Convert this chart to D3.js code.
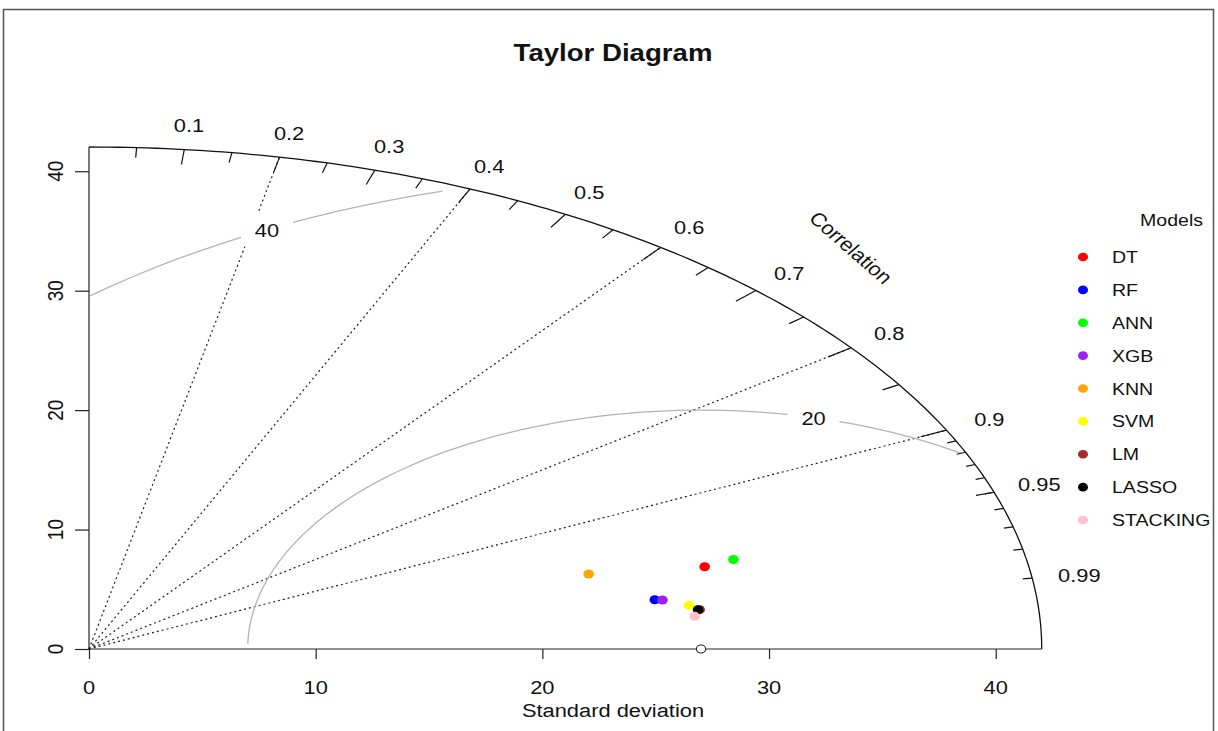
<!DOCTYPE html>
<html>
<head>
<meta charset="utf-8">
<script src="https://cdn.jsdelivr.net/npm/d3@7"></script>
<style>
  body { margin: 0; background: #fff; }
  svg { display: block; }
  text { font-family: "Liberation Sans", Arial, sans-serif; fill: #111; }
</style>
</head>
<body>
<svg id="chart" width="1218" height="731"></svg>
<script>
// ---- data ----------------------------------------------------------------
const models      = ["DT", "RF", "ANN", "XGB", "KNN", "SVM", "LM", "LASSO", "STACKING"];
const modelColors = ["#ff0000", "#0000ff", "#00ff00", "#a020f0", "#ffa500", "#ffff00", "#a52a2a", "#000000", "#ffc0cb"];
const modelSd     = [28.02, 25.30, 29.40, 25.63, 22.92, 26.72, 27.14, 27.07, 26.86];
const modelCor    = [0.9693, 0.9866, 0.9670, 0.9871, 0.9617, 0.9906, 0.9926, 0.9926, 0.9948];
const refSd       = 27.0;                       // standard deviation of the observations
const sdTicks     = [0, 10, 20, 30, 40];
const corBig      = [0.1, 0.2, 0.3, 0.4, 0.5, 0.6, 0.7, 0.8, 0.9];
const corLabels   = [0.1, 0.2, 0.3, 0.4, 0.5, 0.6, 0.7, 0.8, 0.9, 0.95, 0.99];
const corMed      = [0.05, 0.15, 0.25, 0.35, 0.45, 0.55, 0.65, 0.75, 0.85, 0.95];
const corSmall    = [0.91, 0.92, 0.93, 0.94, 0.95, 0.96, 0.97, 0.98, 0.99];
const corLines    = [0.2, 0.4, 0.6, 0.8, 0.9];
const rmsLevels   = [20, 40];

// ---- layout --------------------------------------------------------------
const maxSd = 1.5 * modelSd[0];                 // outer radius of the diagram
const K = 1.15;                                 // horizontal text stretch
const FS = 19;                                  // axis text size
const svg = d3.select("#chart");

const x = d3.scaleLinear().domain([0, 1.1 * maxSd]).range([89, 1137]);
const y = d3.scaleLinear().domain([0, 1.1 * maxSd]).range([649, 649 - 1.1 * 502]);
const P = (sd, a) => [x(sd * Math.cos(a)), y(sd * Math.sin(a))];

function txt(g, px, py, s, size, opts = {}) {
  const rot = opts.rotate ? ` rotate(${opts.rotate})` : "";
  return g.append("text")
    .attr("transform", `translate(${px},${py}) scale(${K},1)${rot}`)
    .attr("text-anchor", opts.anchor || "middle")
    .attr("dominant-baseline", "central")
    .attr("font-size", size)
    .attr("font-weight", opts.bold ? "bold" : null)
    .text(s);
}

// frame
const frame = svg.append("g").attr("stroke", "#555").attr("stroke-width", 1.5).attr("fill", "none");
frame.append("path").attr("d", "M3.5,731 V9.5 H1213.5 V731");

const g = svg.append("g");

// radial correlation lines
corLines.forEach(c => {
  const a = Math.acos(c);
  const [x1, y1] = P(maxSd, a);
  g.append("line").attr("x1", x(0)).attr("y1", y(0)).attr("x2", x1).attr("y2", y1)
    .attr("stroke", "#222").attr("stroke-width", 1.2).attr("stroke-dasharray", "2,3");
});

// axis lines to the outer radius
g.append("line").attr("x1", x(0)).attr("y1", y(0)).attr("x2", x(maxSd)).attr("y2", y(0))
  .attr("stroke", "#222").attr("stroke-width", 1.2);
g.append("line").attr("x1", x(0)).attr("y1", y(0)).attr("x2", x(0)).attr("y2", y(maxSd))
  .attr("stroke", "#222").attr("stroke-width", 1.2);

// axes
const xAxis = d3.axisBottom(x).tickValues(sdTicks).tickSize(10).tickFormat("");
const gx = g.append("g").attr("transform", `translate(0,${y(0)})`).call(xAxis);
gx.select(".domain").remove();
gx.selectAll("line").attr("stroke", "#222").attr("stroke-width", 1.2);
const yAxis = d3.axisLeft(y).tickValues(sdTicks).tickSize(14).tickFormat("");
const gy = g.append("g").attr("transform", `translate(${x(0)},0)`).call(yAxis);
gy.select(".domain").remove();
gy.selectAll("line").attr("stroke", "#222").attr("stroke-width", 1.2);

sdTicks.forEach(v => {
  txt(g, x(v), 687, String(v), FS);
  txt(g, 55, y(v), String(v), FS, { rotate: -90 });
});

// centred RMS difference contours
const theta = d3.range(105).map(i => i * 0.03);
const labelIdx = [44, 69];
const line = d3.line().x(d => x(d[0])).y(d => y(d[1]));
rmsLevels.forEach((gm, gi) => {
  const pts = theta.map(t => [Math.cos(t) * gm + refSd, Math.sin(t) * gm]);
  let end = pts.findIndex(p => p[0] < 0);
  end = end >= 0 ? end - 1 : pts.length - 1;
  let start = -1;
  pts.forEach((p, i) => { if (p[0] * p[0] + p[1] * p[1] > maxSd * maxSd) start = i; });
  start = start + 1;
  g.append("path").attr("d", line(pts.slice(start, end + 1)))
    .attr("fill", "none").attr("stroke", "#b4b4b4").attr("stroke-width", 1.3);
  const lp = pts[labelIdx[gi]];
  if (lp[0] > 0) {
    g.append("rect").attr("x", x(lp[0]) - 26).attr("y", y(lp[1]) - 17)
      .attr("width", 52).attr("height", 34).attr("fill", "#fff");
    txt(g, x(lp[0]), y(lp[1]), String(gm), FS);
  }
});

// outer arc
const arc = d3.range(0, Math.PI / 2 + 0.0001, 0.01).map(a => [maxSd * Math.cos(a), maxSd * Math.sin(a)]);
arc.push([0, maxSd]);
g.append("path").attr("d", line(arc)).attr("fill", "none").attr("stroke", "#111").attr("stroke-width", 1.3);

// ticks on the arc
function arcTicks(list, inner) {
  list.forEach(c => {
    const a = Math.acos(c);
    const [x1, y1] = P(maxSd, a), [x2, y2] = P(maxSd * inner, a);
    g.append("line").attr("x1", x1).attr("y1", y1).attr("x2", x2).attr("y2", y2)
      .attr("stroke", "#111").attr("stroke-width", 1.2);
  });
}
arcTicks(corBig, 0.97);

// reference point
g.append("ellipse").attr("cx", x(refSd)).attr("cy", y(0)).attr("rx", 4.6).attr("ry", 4)
  .attr("fill", "#fff").attr("stroke", "#222").attr("stroke-width", 1.1);

// correlation labels
corLabels.forEach(c => {
  const [lx, ly] = P(1.05 * maxSd, Math.acos(c));
  txt(g, lx, ly, String(c), FS);
});
txt(g, x(0.8 * maxSd), y(0.8 * maxSd), "Correlation", FS, { rotate: 45 });

arcTicks(corMed, 0.98);
arcTicks(corSmall, 0.99);

// model points
models.forEach((m, i) => {
  const a = Math.acos(modelCor[i]);
  const [px, py] = P(modelSd[i], a);
  g.append("ellipse").attr("cx", px).attr("cy", py).attr("rx", 5.3).attr("ry", 4.5)
    .attr("fill", modelColors[i]);
});

// title and axis label
txt(svg, (x.range()[0] + x.range()[1]) / 2, 53, "Taylor Diagram", 24, { bold: true });
txt(svg, (x.range()[0] + x.range()[1]) / 2, 710, "Standard deviation", FS);

// legend
const leg = svg.append("g");
txt(leg, 1203, 220, "Models", 17, { anchor: "end" });
const rowY = d3.scalePoint().domain(models).range([257, 520]);
models.forEach((m, i) => {
  leg.append("ellipse").attr("cx", 1083).attr("cy", rowY(m)).attr("rx", 5).attr("ry", 4.3)
    .attr("fill", modelColors[i]);
  txt(leg, 1112, rowY(m), m, 17, { anchor: "start" });
});
</script>
</body>
</html>
